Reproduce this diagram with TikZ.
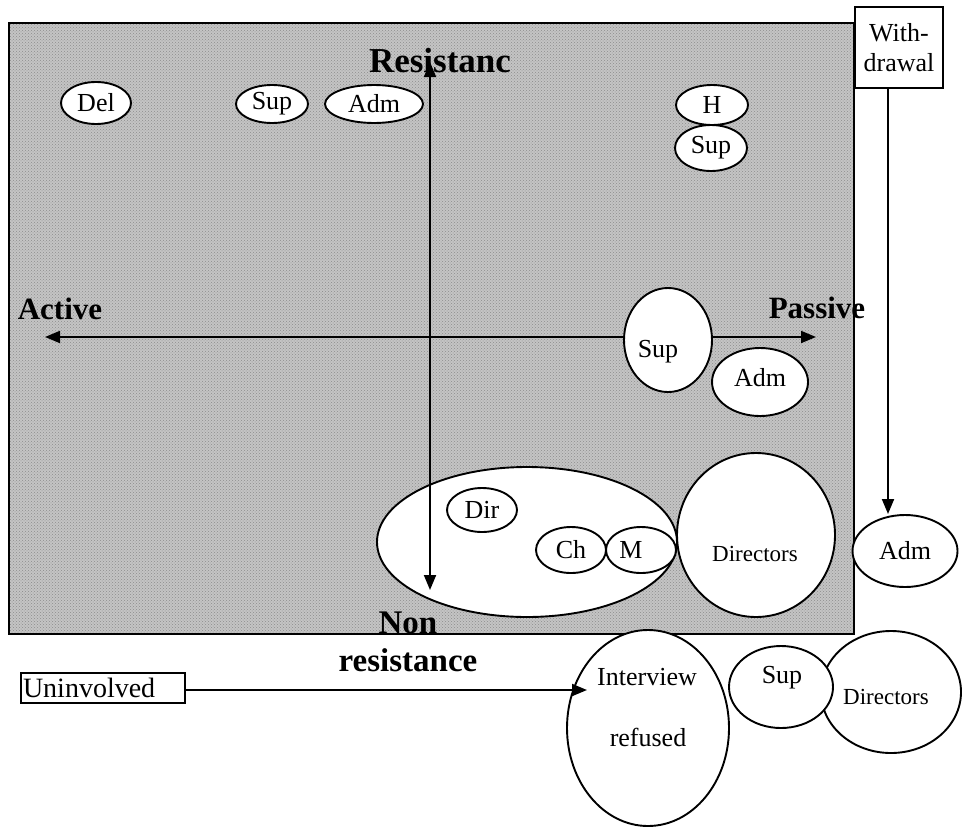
\documentclass[tikz,border=0pt]{standalone}
\usepackage{fontspec}
\setmainfont{Liberation Serif}
\usetikzlibrary{shapes.geometric,arrows.meta,patterns,calc}
\definecolor{texgray}{RGB}{196,196,196}
\begin{document}
\begin{tikzpicture}[x=1pt,y=-1pt,
  every node/.style={font=\fontsize{26}{30}\selectfont},
  ell/.style={draw,ellipse,fill=white,line width=1.9pt,inner sep=0pt},
  lbl/.style={font=\fontsize{33}{38}\selectfont\bfseries},
  small/.style={font=\fontsize{23}{27}\selectfont},
  axis/.style={line width=1.9pt,{Triangle[length=15pt,width=12pt]}-{Triangle[length=15pt,width=12pt]}},
  arr/.style={line width=1.9pt,-{Triangle[length=15pt,width=12pt]}},
  box/.style={draw,fill=white,line width=1.9pt,inner sep=2pt}]
\useasboundingbox (0,0) rectangle (965,827);
% shaded field
\node[draw, line width=2.2pt, preaction={fill=texgray}, pattern=crosshatch dots, pattern color=black!45,
      minimum width=845pt, minimum height=611pt, inner sep=0pt, anchor=north west] (field) at (8,22) {};
% top row
\node[ell, minimum width=70pt, minimum height=42pt] (del) at (96,103) {Del};
\node[ell, minimum width=72pt, minimum height=38pt] (sup1) at (272,104) {Sup};
\node[ell, minimum width=98pt, minimum height=38pt] (adm1) at (374,104) {Adm};
\node[ell, minimum width=72pt, minimum height=40pt] (h) at (712,105) {H};
\node[ell, minimum width=72pt, minimum height=46pt] (sup2) at (711,148) {Sup};
% horizontal axis
\coordinate (aL) at (45,337);
\coordinate (aR) at (816,337);
\draw[axis] (aL) -- (aR);
\node[ell, minimum width=88pt, minimum height=104pt] (sup3) at (668,340) {};
\node (sup3t) at (658,352) {Sup};
\node[ell, minimum width=96pt, minimum height=68pt] (adm2) at (760,382) {};
\node (adm2t) at (760,378) {Adm};
% lower group
\node[ell, minimum width=300pt, minimum height=150pt] (grp) at (527,542) {};
\node[ell, minimum width=70pt, minimum height=44pt] (dir) at (482,510) {Dir};
\node[ell, minimum width=70pt, minimum height=46pt] (ch) at (571,550) {Ch};
\node[ell, minimum width=70pt, minimum height=46pt] (m) at (641,550) {};
\node (mt) at (631,550) {M};
\node[ell, minimum width=158pt, minimum height=164pt] (dirs) at (756,535) {};
\node[small] (dirst) at (755,554) {Directors};
% vertical axis
\coordinate (aT) at (430,62);
\coordinate (aB) at (430,590);
\draw[axis] (aB) -- (aT);
% axis labels
\node[lbl, font=\fontsize{35}{40}\selectfont\bfseries, anchor=base] (res) at (440,72) {Resistanc};
\node[lbl, font=\fontsize{31}{36}\selectfont\bfseries, anchor=base] (act) at (60,319) {Active};
\node[lbl, font=\fontsize{31}{36}\selectfont\bfseries, anchor=base] (pas) at (817,318) {Passive};
\node[lbl, anchor=base, align=center] (non) at (408,671) {Non\\resistance};
% withdrawal
\node[box, minimum width=88pt, minimum height=81pt, align=center] (wd) at (899,47.5) {With-\\drawal};
\node[ell, minimum width=105pt, minimum height=72pt] (adm3) at (905,551) {Adm};
\coordinate (wdtip) at (888,514);
\draw[arr] (wd.south -| wdtip) -- (wdtip);
% bottom
\node[box, font=\fontsize{28}{32}\selectfont, text width=160pt, align=left, minimum height=30pt, inner sep=2pt] (un) at (103,688) {Uninvolved};
\node[ell, minimum width=162pt, minimum height=196pt] (intv) at (648,728) {};
\node (intvt1) at (647,677) {Interview};
\node (intvt2) at (648,737) {refused};
\coordinate (untip) at (587,690);
\draw[arr] (un.east |- untip) -- (untip);
\node[ell, minimum width=140pt, minimum height=122pt] (dir2) at (891,692) {};
\node[small] (dir2t) at (886,697) {Directors};
\node[ell, minimum width=104pt, minimum height=82pt] (sup4) at (781,687) {};
\node (sup4t) at (782,678) {Sup};
\end{tikzpicture}
\end{document}
